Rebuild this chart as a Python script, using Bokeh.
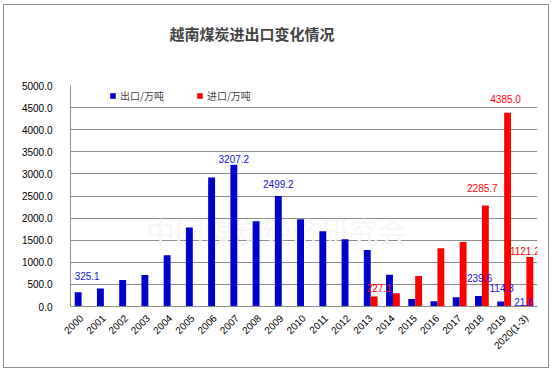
import math
from bokeh.plotting import figure
from bokeh.layouts import column
from bokeh.models import (ColumnDataSource, FactorRange, Range1d, FixedTicker,
                          NumeralTickFormatter, Legend, LegendItem, Label, Title)
from bokeh.transform import dodge
from bokeh.core.properties import value
from bokeh.embed import file_html
from bokeh.resources import INLINE

# ---------------- data ----------------
years = ["2000", "2001", "2002", "2003", "2004", "2005", "2006", "2007", "2008",
         "2009", "2010", "2011", "2012", "2013", "2014", "2015", "2016", "2017",
         "2018", "2019", "2020(1-3)"]
exports = [325.1, 410, 600, 710, 1160, 1790, 2920, 3207.2, 1930, 2499.2, 1975,
           1700, 1520, 1280, 720, 170, 120, 210, 239.6, 114.3, 21.6]
nan = float("nan")
imports = [nan] * 13 + [227.1, 300, 690, 1320, 1460, 2285.7, 4385.0, 1121.2]
export_labelled = ["2000", "2007", "2009", "2018", "2019", "2020(1-3)"]
import_labelled = ["2013", "2018", "2019", "2020(1-3)"]
y_ticks = [0, 500, 1000, 1500, 2000, 2500, 3000, 3500, 4000, 4500, 5000]
series_names = ["出口/万吨", "进口/万吨"]
title_text = "越南煤炭进出口变化情况"
watermark = "中国煤炭经济研究会"

# label nudges (pixels, styling only): (dx, dy)
exp_nudge = {"2000": (9, -16), "2007": (0, -6), "2009": (0, -12), "2018": (1, -18),
             "2019": (1, -13), "2020(1-3)": (1, -4)}
imp_nudge = {"2013": (5, -8), "2018": (-3, -17), "2019": (-2, -14),
             "2020(1-3)": (-5, -6)}

BLUE = "#0000cc"
RED = "#ff0000"
GRID = "#8c8c8c"
NUMF = "Liberation Sans"
CJKF = "Noto Sans CJK SC"


def label_source(vals, labelled, nudge):
    ys, vs, ts, dx, dy = [], [], [], [], []
    for y, v in zip(years, vals):
        if y in labelled:
            ys.append(y)
            vs.append(v)
            ts.append("%.1f" % v)
            dx.append(nudge[y][0])
            dy.append(nudge[y][1])
    return ColumnDataSource(dict(years=ys, v=vs, t=ts, dx=dx, dy=dy))


src = ColumnDataSource(dict(years=years, exports=exports, imports=imports))
exp_src = label_source(exports, export_labelled, exp_nudge)
imp_src = label_source(imports, import_labelled, imp_nudge)

p = figure(x_range=FactorRange(*years, range_padding=0), y_range=Range1d(0, 5000),
           width=546, height=364, output_backend="svg", toolbar_location=None,
           title=None,
           min_border_left=66, min_border_right=13, min_border_top=80,
           min_border_bottom=63)
p.styles = {"border": "1px solid #8c8c8c"}
p.margin = (4, 0, 0, 3)
p.background_fill_color = "white"
p.border_fill_color = "white"
p.outline_line_color = None

# watermark
p.add_layout(Label(x=3.4, y=1700, text=watermark, text_font=CJKF,
                   text_font_size="29px", text_color="#f6f6f6",
                   text_baseline="middle", level="underlay"))

wb = 0.31
r_exp = p.vbar(x=dodge("years", -wb / 2, range=p.x_range), top="exports", width=wb,
               source=src, fill_color=BLUE, line_color=None)
r_imp = p.vbar(x=dodge("years", wb / 2, range=p.x_range), top="imports", width=wb,
               source=src, fill_color=RED, line_color=None)

p.text(x=dodge("years", -wb / 2, range=p.x_range), y="v", text="t", source=exp_src,
       x_offset="dx", y_offset="dy",
       text_font=value(NUMF), text_font_size="10px", text_color="#1414dc",
       text_align="center", text_baseline="middle")
p.text(x=dodge("years", wb / 2, range=p.x_range), y="v", text="t", source=imp_src,
       x_offset="dx", y_offset="dy",
       text_font=value(NUMF), text_font_size="10px", text_color=RED,
       text_align="center", text_baseline="middle")

# axes
p.yaxis.ticker = FixedTicker(ticks=y_ticks)
p.yaxis.formatter = NumeralTickFormatter(format="0.0")
p.yaxis.major_label_text_font = NUMF
p.yaxis.major_label_text_font_size = "10px"
p.yaxis.major_label_text_color = "black"
p.yaxis.major_tick_line_color = None
p.yaxis.minor_tick_line_color = None
p.yaxis.axis_line_color = GRID
p.yaxis.major_label_standoff = 12

p.xaxis.major_label_orientation = math.pi / 4
p.xaxis.major_label_text_font = NUMF
p.xaxis.major_label_text_font_size = "10px"
p.xaxis.major_label_text_color = "black"
p.xaxis.major_tick_line_color = None
p.xaxis.axis_line_color = GRID
p.xaxis.major_label_standoff = 4

p.xgrid.grid_line_color = None
p.ygrid.grid_line_color = GRID
p.ygrid.grid_line_width = 1

# title: two blank lines below it keep it high above the frame
p.add_layout(Title(text=title_text + "\n\u00a0\n\u00a0", text_font=CJKF,
                   text_font_size="15px", text_line_height=0.87,
                   text_font_style="bold", align="left", offset=99, standoff=10),
             "above")

legend = Legend(items=[LegendItem(label=series_names[0], renderers=[r_exp]),
                       LegendItem(label=series_names[1], renderers=[r_imp])],
                orientation="horizontal", location=(39, 203),
                padding=0, margin=0, spacing=32, glyph_width=7, glyph_height=7,
                label_height=12, label_standoff=4, label_text_font=CJKF,
                label_text_font_size="10px", border_line_color=None,
                background_fill_alpha=0)
p.add_layout(legend, "center")

root = column(p)
open("out.html", "w").write(file_html(root, INLINE))
